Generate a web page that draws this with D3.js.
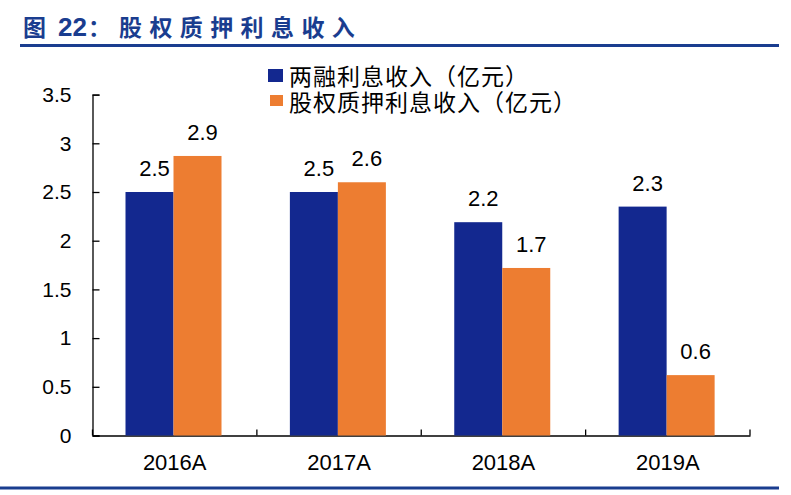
<!DOCTYPE html>
<html>
<head>
<meta charset="utf-8">
<script src="https://cdn.jsdelivr.net/npm/d3@7"></script>
<style>
  html, body { margin: 0; padding: 0; background: #fff; }
  svg { display: block; }
</style>
</head>
<body>
<svg id="chart" width="791" height="495"></svg>
<script>
const categories = ["2016A", "2017A", "2018A", "2019A"];
const seriesNames = ["两融利息收入（亿元）", "股权质押利息收入（亿元）"];
const marginValues = [2.5, 2.5, 2.19, 2.35];
const pledgeValues = [2.87, 2.6, 1.72, 0.62];
const marginLabels = ["2.5", "2.5", "2.2", "2.3"];
const pledgeLabels = ["2.9", "2.6", "1.7", "0.6"];
const yTicks = [0, 0.5, 1, 1.5, 2, 2.5, 3, 3.5];
const colors = ["#13288f", "#ed7d31"];

const svg = d3.select("#chart");
const titleColor = "#1a3d8f";
const cjk = "'Noto Sans CJK SC'";
const latin = "'Liberation Sans', Arial";

// Title
const titleParts = [
  { t: "图", x: 23, font: cjk, size: 23, ls: 0 },
  { t: "22", x: 58, font: latin, size: 26, ls: 0 },
  { t: "：", x: 88, font: cjk, size: 23, ls: 0 },
  { t: "股权质押利息收入", x: 119, font: cjk, size: 23, ls: 7.4 }
];
svg.append("g").selectAll("text").data(titleParts).enter().append("text")
  .attr("x", d => d.x).attr("y", 36)
  .attr("fill", titleColor).attr("font-weight", "bold")
  .attr("font-family", d => d.font).attr("font-size", d => d.size)
  .attr("letter-spacing", d => d.ls)
  .text(d => d.t);

svg.append("line").attr("x1", 20).attr("x2", 779).attr("y1", 45.5).attr("y2", 45.5)
  .attr("stroke", titleColor).attr("stroke-width", 3);
svg.append("line").attr("x1", 0).attr("x2", 779).attr("y1", 488).attr("y2", 488)
  .attr("stroke", titleColor).attr("stroke-width", 3);

// Scales
const x = d3.scaleBand().domain(categories).range([92.5, 750]).padding(0);
const xs = d3.scaleBand().domain([0, 1]).range([33, 129]).padding(0);
const y = d3.scaleLinear().domain([0, 3.5]).range([435.5, 94.6]);

// Axes
const yAxis = d3.axisLeft(y).tickValues(yTicks).tickSize(-7).tickPadding(21)
  .tickFormat(d3.format("~g"));
const gy = svg.append("g").attr("transform", "translate(92.5,0)").call(yAxis);
gy.select(".domain").attr("stroke", "#000").attr("stroke-width", 1.3);
gy.selectAll(".tick line").attr("stroke", "#000").attr("stroke-width", 1.3);
gy.selectAll(".tick text").attr("font-family", latin)
  .attr("font-size", 21).attr("fill", "#000");

const xAxis = d3.axisBottom(x).tickSize(0).tickPadding(19);
const gx = svg.append("g").attr("transform", "translate(0,435.5)").call(xAxis);
gx.select(".domain").attr("stroke", "#000").attr("stroke-width", 1.3);
gx.selectAll(".tick text").attr("font-family", latin)
  .attr("font-size", 22).attr("fill", "#000").attr("dy", "0.71em");
// band boundary ticks (inside)
const bounds = categories.map(c => x(c)).concat([x.range()[1]]);
gx.selectAll(".bound").data(bounds).enter().append("line")
  .attr("x1", d => d).attr("x2", d => d).attr("y1", 0).attr("y2", -6)
  .attr("stroke", "#000").attr("stroke-width", 1.3);

// Bars
const data = [marginValues, pledgeValues];
const labels = [marginLabels, pledgeLabels];
data.forEach((vals, si) => {
  const g = svg.append("g");
  g.selectAll("rect").data(vals).enter().append("rect")
    .attr("x", (d, i) => x(categories[i]) + xs(si))
    .attr("width", xs.bandwidth())
    .attr("y", d => y(d))
    .attr("height", d => y(0) - y(d))
    .attr("fill", colors[si]);
  g.selectAll("text").data(vals).enter().append("text")
    .attr("x", (d, i) => x(categories[i]) + xs(si) + xs.bandwidth() / 2 + 5)
    .attr("y", d => y(d) - 16)
    .attr("text-anchor", "middle")
    .attr("font-family", latin)
    .attr("font-size", 22).attr("fill", "#000")
    .text((d, i) => labels[si][i]);
});

// Legend
const legend = svg.append("g");
const swatch = [{ x: 268, y: 69, w: 15, h: 13 }, { x: 270, y: 95, w: 13, h: 11 }];
seriesNames.forEach((name, i) => {
  const ly = 84.5 + i * 26;
  legend.append("rect").attr("x", swatch[i].x).attr("y", swatch[i].y)
    .attr("width", swatch[i].w).attr("height", swatch[i].h)
    .attr("fill", colors[i]);
  legend.append("text").attr("x", 289).attr("y", ly)
    .attr("font-family", "'Liberation Sans', 'Noto Sans CJK SC'")
    .attr("font-size", 23).attr("letter-spacing", 1).attr("fill", "#000")
    .text(name);
});
</script>
</body>
</html>
